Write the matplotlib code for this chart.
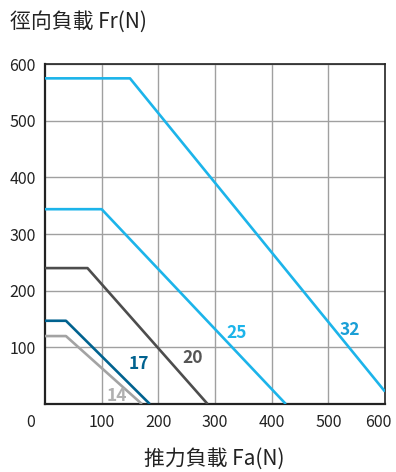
import matplotlib.pyplot as plt

plt.rcParams['font.family'] = ['Noto Sans CJK TC', 'DejaVu Sans']

# load curves: thrust load Fa (N) -> radial load Fr (N)
sizes = ['14', '17', '20', '25', '32']
fa = {
    '14': [0, 37, 171],
    '17': [0, 37, 185],
    '20': [0, 75, 287],
    '25': [0, 100, 425],
    '32': [0, 150, 600],
}
fr = {
    '14': [120, 120, 0],
    '17': [147, 147, 0],
    '20': [240, 240, 0],
    '25': [344, 344, 0],
    '32': [575, 575, 22],
}
colors = {'14': '#a3a3a3', '17': '#00628f', '20': '#4d4d4d',
          '25': '#1cb4ea', '32': '#1cb4ea'}
label_pos = {'14': (127, 14), '17': (166, 70), '20': (261, 82),
             '25': (339, 125), '32': (538, 130)}
label_colors = {'14': '#b0b0b0', '17': '#00628f', '20': '#555555',
                '25': '#1cb4ea', '32': '#1a9fd6'}

xticks = [0, 100, 200, 300, 400, 500, 600]
xticklabels = ['0', '100', '200', '300', '400', '500', '600']
yticks = [100, 200, 300, 400, 500, 600]

fig = plt.figure(figsize=(3.96, 4.72), dpi=100)
ax = fig.add_axes([0.1136, 0.144, 0.8586, 0.72])

for s in sizes:
    ax.plot(fa[s], fr[s], color=colors[s], lw=1.9, solid_capstyle='butt',
            zorder=3)
    lx, ly = label_pos[s]
    ax.text(lx, ly, s, color=label_colors[s], fontsize=12.5, fontweight='bold',
            ha='center', va='center', zorder=4)

ax.set_xlim(0, 600)
ax.set_ylim(0, 600)
ax.set_xticks(xticks[1:-1])
ax.set_yticks(yticks)
ax.set_xticklabels(xticklabels[1:-1])
ax.grid(True, color='#a0a0a0', lw=1)
ax.set_axisbelow(True)
ax.tick_params(length=0, labelsize=11.5, colors='#222222')
ax.tick_params(axis='x', pad=7)
ax.tick_params(axis='y', pad=6.5)
for sp in ax.spines.values():
    sp.set_color('#222222')
    sp.set_linewidth(1.2)
ax.spines['left'].set_linewidth(1.6)
ax.spines['bottom'].set_linewidth(1.6)

# end labels of the x axis sit shifted off the corners
for v, lab, dx in [(xticks[0], xticklabels[0], -10), (xticks[-1], xticklabels[-1], -5)]:
    ax.annotate(lab, xy=(v, 0), xycoords=('data', 'axes fraction'),
                xytext=(dx, -7), textcoords='offset points',
                fontsize=11.5, color='#222222', ha='center', va='top')

fig.text(0.025, 0.953, '徑向負載 Fr(N)', fontsize=15, color='#222222',
         ha='left', va='center')
fig.text(0.54, 0.027, '推力負載 Fa(N)', fontsize=15, color='#222222',
         ha='center', va='center')

fig.savefig('out.png', dpi=100)
